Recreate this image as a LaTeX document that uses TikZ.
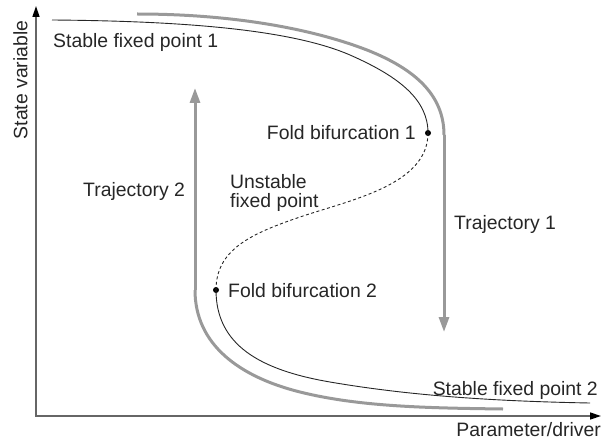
\documentclass[tikz,border=0pt]{standalone}
\usepackage{fontspec}
\setmainfont{Liberation Sans}
\usetikzlibrary{arrows.meta}
\begin{document}
\begin{tikzpicture}[x=1pt,y=-1pt,
  lbl/.style={font=\fontsize{19.4}{23}\selectfont, text=black!85, inner sep=0pt},
  axis/.style={draw=black!60, line width=1.4pt, line join=miter,
    {Triangle[width=7pt,length=11pt,color=black]}-{Triangle[width=7pt,length=11pt,color=black]}},
  traj/.style={draw=black!40, line width=3pt},
  trajarrow/.style={traj, -{Triangle[width=10pt,length=15pt]}},
  branch/.style={draw=black!85, line width=0.9pt},
  unst/.style={branch, dash pattern=on 3pt off 2.5pt},
  fold/.style={circle, fill=black, inner sep=0pt, minimum size=6pt}]
\useasboundingbox (0,0) rectangle (604,441);

% axes
\coordinate (O) at (36,416);
\coordinate (Ytip) at (36,6);
\coordinate (Xtip) at (601,416);
\draw[axis] (Ytip) -- (O) -- (Xtip);
\node[lbl, rotate=90] (ylab) at (20.5,80) {State variable};
\node[lbl, anchor=base east] (xlab) at (601,436) {Parameter/driver};

% trajectory 1: along the upper branch, then the jump down
\coordinate (T1a) at (137,14);
\coordinate (T1b) at (444,135);
\coordinate (T1c) at (444,332);
\draw[traj] (T1a) .. controls (230,14) and (310,28) .. (367,50)
  .. controls (415,69) and (444,95) .. (T1b);
\draw[trajarrow] (T1b) -- (T1c);

% trajectory 2: along the lower branch, then the jump up
\coordinate (T2a) at (503,409);
\coordinate (T2b) at (195,290);
\coordinate (T2c) at (195,88);
\draw[traj] (T2a) .. controls (430,408) and (360,407) .. (300,392)
  .. controls (240,377) and (195,345) .. (T2b);
\draw[trajarrow] (T2b) -- (T2c);

% fold points
\node[fold] (F1) at (428,133) {};
\node[fold] (F2) at (216,290) {};

% stable and unstable branches
\coordinate (S1) at (52,20);
\coordinate (S2) at (590,403);
\draw[branch] (S1) .. controls (180,21) and (290,29) .. (350,55)
  .. controls (400,77) and (428,100) .. (F1.center);
\draw[unst] (F1.center) .. controls (428,185) and (350,200) .. (300,217)
  .. controls (250,234) and (216,250) .. (F2.center);
\draw[branch] (F2.center) .. controls (216,345) and (260,370) .. (330,382)
  .. controls (400,394) and (480,401) .. (S2);

% labels
\node[lbl, anchor=base west] (l1) at (53,48) {Stable fixed point 1};
\node[lbl, anchor=base east] (l2) at (416,139) {Fold bifurcation 1};
\node[lbl, anchor=base west] (l3) at (83,196) {Trajectory 2};
\node[lbl, anchor=base west] (l4) at (230,188) {Unstable};
\node[lbl, anchor=base west] (l5) at (230,207) {fixed point};
\node[lbl, anchor=base west] (l6) at (454,229) {Trajectory 1};
\node[lbl, anchor=base west] (l7) at (228,297) {Fold bifurcation 2};
\node[lbl, anchor=base east] (l8) at (598,395) {Stable fixed point 2};
\end{tikzpicture}
\end{document}
